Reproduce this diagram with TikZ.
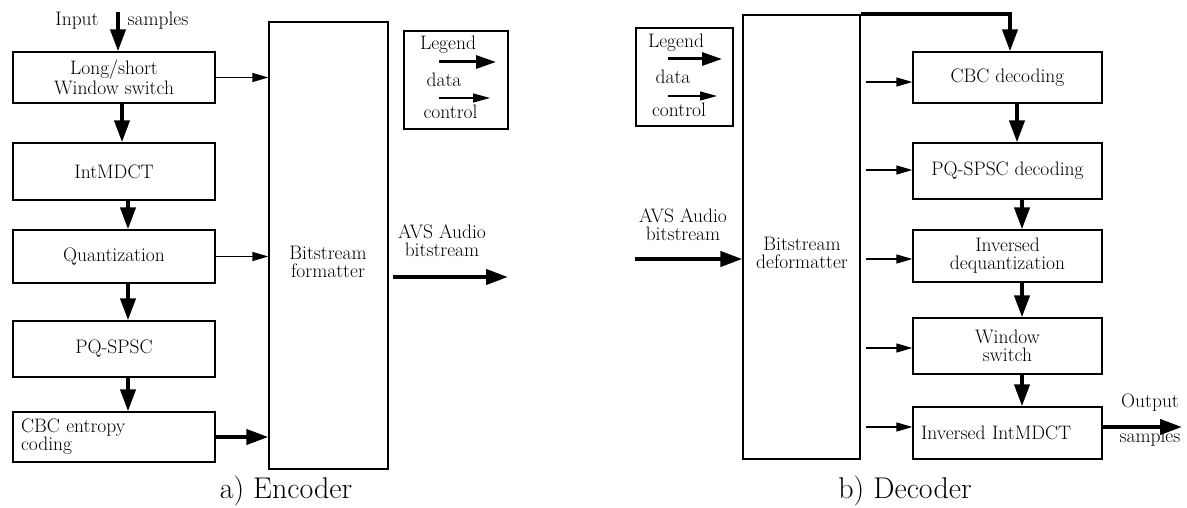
\documentclass[tikz,border=0pt]{standalone}
\usetikzlibrary{arrows.meta}
\newcommand{\bodyfont}{\fontsize{19.5}{18}\selectfont}
\newcommand{\capfont}{\fontsize{30}{34}\selectfont}
\begin{document}
\begin{tikzpicture}[x=1pt,y=-1pt,
  box/.style={draw, line width=1.3pt, inner sep=0pt, align=center, font=\bodyfont},
  txt/.style={inner sep=0pt, align=center, font=\bodyfont},
  captext/.style={inner sep=0pt, font=\capfont},
  data/.style={line width=4pt, -{Triangle[length=22pt,width=15pt]}},
  ctrl/.style={line width=1.3pt, -{Triangle[length=16pt,width=9pt]}},
  lgdata/.style={line width=3pt, -{Triangle[length=20pt,width=13pt]}},
  lgctrl/.style={line width=1.2pt, -{Triangle[length=17pt,width=9pt]}}]
\useasboundingbox (0,0) rectangle (1187,508);

% ---------------- Encoder ----------------
\node[box, minimum width=202, minimum height=51] (e1) at (114,77.5) {Long/short\\Window switch};
\node[box, minimum width=202, minimum height=57] (e2) at (114,171.5) {IntMDCT};
\node[box, minimum width=202, minimum height=53] (e3) at (114,256.5) {Quantization};
\node[box, minimum width=202, minimum height=56] (e4) at (114,349) {PQ-SPSC};
\node[box, minimum width=202, minimum height=50, text width=186, inner xsep=8, align=left] (e5) at (114,437) {CBC entropy\\coding};

\node[box, minimum width=119, minimum height=447] (fmt) at (328.5,245.5) {};
\node[txt] (fmtlabel) at (328,262) {Bitstream\\formatter};

\node[txt] (inlabel) at (77,21) {Input};
\node[txt] (smplabel) at (158,21) {samples};
\coordinate (insrc) at (118,12);
\draw[data] (insrc) -- (insrc |- e1.north);

\draw[data] ([xshift=8]e1.south) -- ([xshift=8]e2.north);
\draw[data] ([xshift=14]e2.south) -- ([xshift=14]e3.north);
\draw[data] ([xshift=14]e3.south) -- ([xshift=14]e4.north);
\draw[data] ([xshift=14]e4.south) -- ([xshift=14]e5.north);

\draw[ctrl] (e1.east) -- (e1.east -| fmt.west);
\draw[ctrl] (e3.east) -- (e3.east -| fmt.west);
\draw[data] (e5.east) -- (e5.east -| fmt.west);

% encoder legend
\node[box, minimum width=104, minimum height=98] (leg1) at (456,80) {};
\node[txt] (leg1title) at (448,45) {Legend};
\coordinate (l1da) at (439,62);
\coordinate (l1db) at (496,62);
\draw[lgdata] (l1da) -- (l1db);
\node[txt] (leg1data) at (444,80) {data};
\coordinate (l1ca) at (439,98);
\coordinate (l1cb) at (490,98);
\draw[lgctrl] (l1ca) -- (l1cb);
\node[txt] (leg1ctrl) at (450.5,112) {control};

% encoder output
\node[txt] (avsout) at (442,241) {AVS Audio\\bitstream};
\coordinate (avsend) at (508,277);
\draw[data, shorten <=4pt] (avsend -| fmt.east) -- (avsend);

\node[captext] (enccap) at (286,491) {a) Encoder};

% ---------------- Decoder ----------------
\node[box, minimum width=117, minimum height=444] (d0) at (801.5,237) {};
\node[txt] (d0label) at (802,253) {Bitstream\\deformatter};

\node[box, minimum width=189, minimum height=51] (d1) at (1007.5,77.5) {CBC decoding};
\node[box, minimum width=189, minimum height=56] (d2) at (1007.5,171) {PQ-SPSC decoding};
\node[box, minimum width=189, minimum height=52] (d3) at (1007.5,256) {Inversed\\dequantization};
\node[box, minimum width=189, minimum height=56] (d4) at (1007.5,346) {Window\\switch};
\node[box, minimum width=189, minimum height=52, text width=173, inner xsep=8, align=left] (d5) at (1007.5,433) {Inversed IntMDCT};

\draw[data] (d0.north east) -| ([xshift=2.5]d1.north);

\draw[data] ([xshift=9.5]d1.south) -- ([xshift=9.5]d2.north);
\draw[data] ([xshift=14.5]d2.south) -- ([xshift=14.5]d3.north);
\draw[data] ([xshift=14.5]d3.south) -- ([xshift=14.5]d4.north);
\draw[data] ([xshift=14.5]d4.south) -- ([xshift=14.5]d5.north);

\draw[ctrl, shorten <=5pt] ([yshift=-4.5]d1.west -| d0.east) -- ([yshift=-4.5]d1.west);
\draw[ctrl, shorten <=5pt] ([yshift=1]d2.west -| d0.east) -- ([yshift=1]d2.west);
\draw[ctrl, shorten <=5pt] ([yshift=-3]d3.west -| d0.east) -- ([yshift=-3]d3.west);
\draw[ctrl, shorten <=5pt] ([yshift=-2]d4.west -| d0.east) -- ([yshift=-2]d4.west);
\draw[ctrl, shorten <=5pt] ([yshift=6]d5.west -| d0.east) -- ([yshift=6]d5.west);

% decoder input
\node[txt] (avsin) at (683,224.5) {AVS Audio\\bitstream};
\coordinate (avssrc) at (635,259);
\draw[data] (avssrc) -- (avssrc -| d0.west);

% decoder output
\coordinate (outend) at (1182,427);
\draw[data] (outend -| d5.east) -- (outend);
\node[txt] (outlabel) at (1150,403) {Output};
\node[txt] (outsmp) at (1150,438) {samples};

% decoder legend
\node[box, minimum width=97, minimum height=98] (leg2) at (684.5,77) {};
\node[txt] (leg2title) at (676,43) {Legend};
\coordinate (l2da) at (668,59);
\coordinate (l2db) at (722,59);
\draw[lgdata] (l2da) -- (l2db);
\node[txt] (leg2data) at (673,77) {data};
\coordinate (l2ca) at (668,96);
\coordinate (l2cb) at (717,96);
\draw[lgctrl] (l2ca) -- (l2cb);
\node[txt] (leg2ctrl) at (679,110) {control};

\node[captext] (deccap) at (905,491) {b) Decoder};
\end{tikzpicture}
\end{document}
